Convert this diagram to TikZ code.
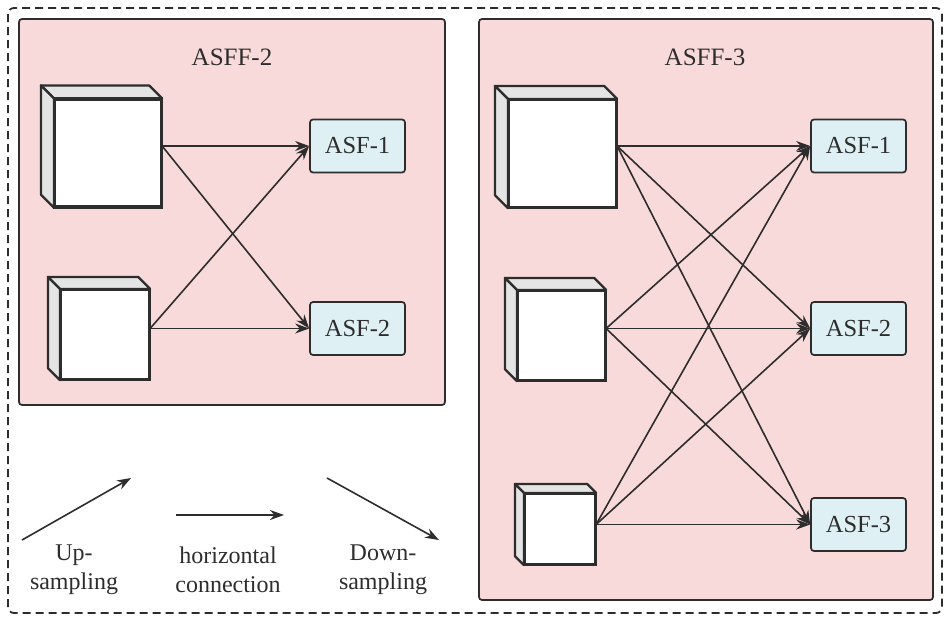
\documentclass[tikz,border=0pt]{standalone}
\usepackage{fontspec}
\setmainfont{Liberation Serif}
\usetikzlibrary{arrows.meta}
\definecolor{panelpink}{RGB}{249,218,218}
\definecolor{asfblue}{RGB}{222,240,244}
\definecolor{sidegray}{RGB}{228,228,228}
\definecolor{ink}{RGB}{45,45,45}
\tikzset{
  panel/.style={draw=ink, line width=1.7pt, fill=panelpink, rounded corners=3pt},
  asf/.style={draw=ink, line width=1.7pt, fill=asfblue, rounded corners=3pt, minimum width=95pt, minimum height=53pt, inner sep=0pt, font=\fontsize{24.5}{28}\selectfont, text=ink},
  face/.style={draw=ink, line width=2.2pt, fill=white, inner sep=0pt},
  sideface/.style={draw=ink, line width=2.2pt, fill=sidegray, line join=round},
  conn/.style={draw=ink, line width=1.6pt, -{Stealth[length=14pt,width=10pt]}},
  title/.style={font=\fontsize{25}{28}\selectfont, text=ink},
  legend/.style={font=\fontsize{24}{29}\selectfont, text=ink, align=center},
}
\newcommand\mycube[6]{% name, cx, cy, w, h, d
  \node[face, minimum width=#4pt, minimum height=#5pt] (#1) at (#2,#3) {};
  \draw[sideface] (#1.north west) -- ++(-#6,-#6) -- ([shift={(-#6,-#6)}]#1.north east) -- (#1.north east) -- cycle;
  \draw[sideface] (#1.north west) -- ++(-#6,-#6) -- ([shift={(-#6,-#6)}]#1.south west) -- (#1.south west) -- cycle;
  \draw[face, fill=none] (#1.north west) rectangle (#1.south east);
}
\begin{document}
\begin{tikzpicture}[x=1pt,y=-1pt]
\useasboundingbox (0,0) rectangle (950,621);
\fill[white] (0,0) rectangle (950,621);
\draw[ink, line width=1.8pt, dash pattern=on 8pt off 5pt, rounded corners=6pt] (8,8) rectangle (942,613);

% ASFF-2 panel
\draw[panel] (19,19) rectangle (445,405);
\node[title] (t2) at (232,57) {ASFF-2};
\mycube{a1}{108}{153}{106}{107}{13}
\mycube{a2}{105}{334.5}{88}{89}{12}
\node[asf] (b1) at (357.5,146) {ASF-1};
\node[asf] (b2) at (357.5,328.5) {ASF-2};
\draw[conn] (a1.east |- b1.west) -- (b1.west);
\draw[conn] (a1.east |- b1.west) -- (b2.west);
\draw[conn] (a2.east |- b2.west) -- (b1.west);
\draw[conn] (a2.east |- b2.west) -- (b2.west);

% ASFF-3 panel
\draw[panel] (479,19) rectangle (933,600);
\node[title] (t3) at (705,57) {ASFF-3};
\mycube{c1}{562.5}{153.5}{107}{107}{13}
\mycube{c2}{561.5}{335.5}{87}{89}{12}
\mycube{c3}{560}{529}{70}{70}{9}
\node[asf] (d1) at (858.5,146) {ASF-1};
\node[asf] (d2) at (858.5,328.5) {ASF-2};
\node[asf] (d3) at (858.5,524.5) {ASF-3};
\coordinate (o1) at (c1.east |- d1.west);
\coordinate (o2) at (c2.east |- d2.west);
\coordinate (o3) at (c3.east |- d3.west);
\foreach \s in {o1,o2,o3}{
  \foreach \t in {d1,d2,d3}{
    \draw[conn] (\s) -- (\t.west);
  }
}

% legend
\coordinate (u1) at (22,540); \coordinate (u2) at (131,478);
\coordinate (h1) at (176,515); \coordinate (h2) at (284,515);
\coordinate (w1) at (327,478); \coordinate (w2) at (439,540);
\draw[conn] (u1) -- (u2);
\draw[conn] (h1) -- (h2);
\draw[conn] (w1) -- (w2);
\node[legend] (lu) at (74,570) {Up-\\sampling};
\node[legend] (lh) at (228,570) {horizontal\\connection};
\node[legend] (ld) at (383,570) {Down-\\sampling};
\end{tikzpicture}
\end{document}
